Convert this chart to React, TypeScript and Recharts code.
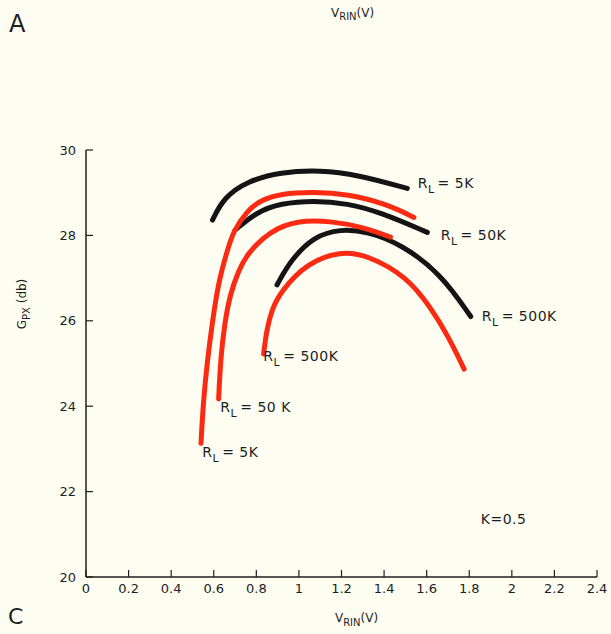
import React from 'react';
import { LineChart, Line, XAxis, YAxis, ReferenceDot, Label } from 'recharts';

// V_RIN (V) vs G_PX (db)
const black5k = [
  { v: 0.594, g: 28.36 }, { v: 0.646, g: 28.88 }, { v: 0.756, g: 29.27 }, { v: 0.913, g: 29.48 },
  { v: 1.101, g: 29.53 }, { v: 1.274, g: 29.42 }, { v: 1.509, g: 29.1 },
];
const black50k = [
  { v: 0.701, g: 28.13 }, { v: 0.803, g: 28.55 }, { v: 0.913, g: 28.75 }, { v: 1.07, g: 28.82 },
  { v: 1.227, g: 28.75 }, { v: 1.384, g: 28.54 }, { v: 1.603, g: 28.07 },
];
const black500k = [
  { v: 0.897, g: 26.84 }, { v: 0.96, g: 27.41 }, { v: 1.07, g: 27.98 }, { v: 1.195, g: 28.15 },
  { v: 1.321, g: 28.09 }, { v: 1.478, g: 27.8 }, { v: 1.666, g: 27.11 }, { v: 1.807, g: 26.1 },
];
const red5k = [
  { v: 0.54, g: 23.13 }, { v: 0.551, g: 24.1 }, { v: 0.569, g: 25.02 }, { v: 0.593, g: 25.95 },
  { v: 0.621, g: 26.88 }, { v: 0.659, g: 27.57 }, { v: 0.692, g: 28.11 }, { v: 0.756, g: 28.57 },
  { v: 0.819, g: 28.82 }, { v: 0.913, g: 28.98 }, { v: 1.07, g: 29.02 }, { v: 1.227, g: 28.97 },
  { v: 1.415, g: 28.73 }, { v: 1.54, g: 28.42 },
];
const red50k = [
  { v: 0.623, g: 24.17 }, { v: 0.632, g: 25.1 }, { v: 0.651, g: 25.95 }, { v: 0.678, g: 26.64 },
  { v: 0.715, g: 27.15 }, { v: 0.756, g: 27.57 }, { v: 0.866, g: 28.11 }, { v: 0.991, g: 28.35 },
  { v: 1.148, g: 28.34 }, { v: 1.305, g: 28.19 }, { v: 1.43, g: 27.96 },
];
const red500k = [
  { v: 0.834, g: 25.22 }, { v: 0.849, g: 25.8 }, { v: 0.872, g: 26.25 }, { v: 0.913, g: 26.68 },
  { v: 1.039, g: 27.36 }, { v: 1.195, g: 27.63 }, { v: 1.321, g: 27.54 }, { v: 1.509, g: 27.03 },
  { v: 1.62, g: 26.3 }, { v: 1.7, g: 25.65 }, { v: 1.776, g: 24.87 },
];

const xTicks = [0, 0.2, 0.4, 0.6, 0.8, 1, 1.2, 1.4, 1.6, 1.8, 2, 2.2, 2.4];
const yTicks = [20, 22, 24, 26, 28, 30];

// curve labels: [v, g, text]
const curveLabels: [number, number, string][] = [
  [1.558, 29.12, '5K'],
  [1.666, 27.89, '50K'],
  [1.859, 26.0, '500K'],
  [0.833, 25.07, '500K'],
  [0.631, 23.87, '50 K'],
  [0.546, 22.82, '5K'],
];

const INK = '#1e1e1e';
const RED = '#fb2a12';
const BLACK = '#141414';
const FONT = '"DejaVu Sans", "Liberation Sans", sans-serif';

const RLabel = (props: any) => {
  const { cx, cy, text } = props;
  return (
    <text x={cx} y={cy} fill={INK} fontFamily={FONT} fontSize={14} letterSpacing={0.5}>
      R
      <tspan fontSize={11} dy={5}>L</tspan>
      <tspan dy={-5} dx={3}>= {text}</tspan>
    </text>
  );
};

const KLabel = (props: any) => (
  <text x={props.cx} y={props.cy} fill={INK} fontFamily={FONT} fontSize={14} letterSpacing={0.5}>
    K=0.5
  </text>
);

const XTitle = (props: any) => {
  const vb = props.viewBox;
  const cx = vb.x + vb.width / 2 + 15;
  return (
    <text x={cx} y={vb.y + 45} fill={INK} fontFamily={FONT} fontSize={12} textAnchor="middle">
      V<tspan fontSize={10} dy={4}>RIN</tspan>
      <tspan dy={-4}>(V)</tspan>
    </text>
  );
};

const YTitle = () => {
  const x = 26;
  const y = 304;
  return (
    <text x={x} y={y} transform={`rotate(-90 ${x} ${y})`} fill={INK} fontFamily={FONT} fontSize={12} textAnchor="middle">
      G<tspan fontSize={10} dy={4}>PX</tspan>
      <tspan dy={-4}> (db)</tspan>
    </text>
  );
};

const lineProps = {
  dataKey: 'g',
  type: 'basis' as const,
  strokeWidth: 5,
  strokeLinecap: 'round' as const,
  dot: false,
  activeDot: false,
  isAnimationActive: false,
};

export default function App() {
  return (
    <div style={{ position: 'relative', width: 611, height: 634, background: '#fdfdf1', fontFamily: FONT }}>
      <style>{'body{margin:0;background:#fdfdf1}'}</style>
      <div style={{ position: 'absolute', left: 9, top: 10, fontSize: 24, color: INK }}>A</div>
      <div style={{ position: 'absolute', left: 8, top: 604, fontSize: 22, lineHeight: '26px', color: INK }}>C</div>
      <div style={{ position: 'absolute', left: 331, top: 6, fontSize: 12, color: INK }}>
        V<sub style={{ fontSize: 10 }}>RIN</sub>(V)
      </div>
      <LineChart width={611} height={634} margin={{ top: 150, right: 14, bottom: 26, left: 26 }}>
        <XAxis
          type="number"
          dataKey="v"
          domain={[0, 2.4]}
          ticks={xTicks}
          tickFormatter={(t) => String(t)}
          tickSize={-7}
          tickMargin={14}
          height={31}
          allowDataOverflow
          axisLine={{ stroke: INK, strokeWidth: 1.5 }}
          tickLine={{ stroke: INK, strokeWidth: 1.2 }}
          tick={{ fill: INK, fontSize: 13, fontFamily: FONT }}
        >
          <Label content={<XTitle />} />
        </XAxis>
        <YAxis
          type="number"
          domain={[20, 30]}
          ticks={yTicks}
          tickSize={-7}
          tickMargin={17}
          width={60}
          allowDataOverflow
          axisLine={{ stroke: INK, strokeWidth: 1.5 }}
          tickLine={{ stroke: INK, strokeWidth: 1.2 }}
          tick={{ fill: INK, fontSize: 13, fontFamily: FONT }}
        >
          <Label content={<YTitle />} />
        </YAxis>
        <Line data={black5k} {...lineProps} stroke={BLACK} />
        <Line data={black50k} {...lineProps} stroke={BLACK} />
        <Line data={black500k} {...lineProps} stroke={BLACK} />
        <Line data={red5k} {...lineProps} stroke={RED} />
        <Line data={red50k} {...lineProps} stroke={RED} />
        <Line data={red500k} {...lineProps} stroke={RED} />
        {curveLabels.map(([v, g, text], i) => (
          <ReferenceDot key={i} x={v} y={g} r={1} shape={(p: any) => <RLabel {...p} text={text} />} />
        ))}
        <ReferenceDot x={1.854} y={21.23} r={1} shape={(p: any) => <KLabel {...p} />} />
      </LineChart>
    </div>
  );
}
